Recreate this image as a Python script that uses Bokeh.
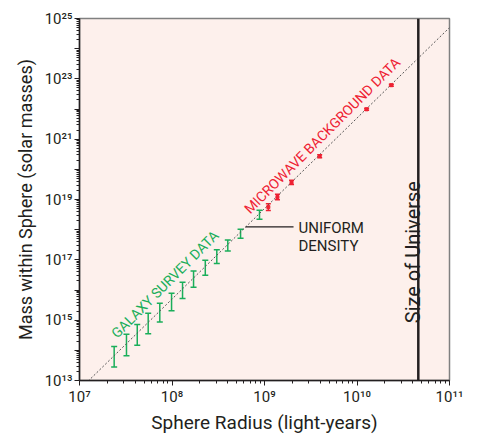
import math
from bokeh.plotting import figure
from bokeh.models import ColumnDataSource, Whisker, TeeHead, Span, FixedTicker
from bokeh.core.properties import value
from bokeh.embed import file_html
from bokeh.resources import INLINE

# ---------------- data ----------------
# Galaxy survey data: sphere radius (light-years), mass error-bar bounds (solar masses)
galaxy_radius = [2.37e7, 3.22e7, 4.21e7, 5.53e7, 7.38e7, 9.89e7, 1.30e8,
                 1.71e8, 2.29e8, 3.05e8, 4.01e8, 5.51e8, 8.83e8]
galaxy_upper = [1.33e14, 3.42e14, 7.21e14, 1.69e15, 3.65e15, 7.87e15, 1.79e16,
                4.29e16, 9.75e16, 2.17e17, 4.58e17, 1.04e18, 4.40e18]
galaxy_lower = [2.78e13, 6.62e13, 1.47e14, 3.52e14, 8.63e14, 2.05e15, 5.18e15,
                1.23e16, 3.11e16, 7.62e16, 1.95e17, 5.15e17, 2.20e18]

# Microwave background data
cmb_radius = [1.10e9, 1.38e9, 1.96e9, 3.95e9, 1.27e10, 2.35e10]
cmb_mass = [5.62e18, 1.21e19, 3.69e19, 2.74e20, 9.77e21, 6.15e22]
cmb_upper = [7.24e18, 1.49e19, 4.34e19, 3.07e20, 1.06e22, 6.67e22]
cmb_lower = [4.36e18, 9.84e18, 3.14e19, 2.44e20, 9.01e21, 5.67e22]

# Uniform density reference line: M = k * R^3
uniform_radius = [1e7, 1e11]
uniform_k = 5.0e-9

# Size of the observable universe (light-years)
universe_size = 4.6e10

# Tick labels
x_ticks = [1e7, 1e8, 1e9, 1e10, 1e11]
x_tick_labels = ["10⁷", "10⁸", "10⁹", "10¹⁰", "10¹¹"]
y_ticks = [1e13, 1e14, 1e15, 1e16, 1e17, 1e18, 1e19, 1e20, 1e21, 1e22, 1e23, 1e24, 1e25]
y_tick_labels = ["10¹³", "", "10¹⁵", "", "10¹⁷", "", "10¹⁹", "", "10²¹", "", "10²³", "", "10²⁵"]

# Annotation anchors
galaxy_label_pos = (8.4e7, 1.55e16)
cmb_label_pos = (4.2e9, 1.32e21)
uniform_leader_x = [6.24e8, 2.06e9]
uniform_leader_y = [1.24e18, 1.24e18]
uniform_text_x = [2.33e9, 2.33e9]
uniform_text_y = [1.17e18, 2.84e17]
uniform_text = ["UNIFORM", "DENSITY"]
universe_label_y = 1.8e17

GREEN = "#1AAE5A"
RED = "#EE2233"
DARK = "#231F20"
FONT = "Roboto"

p = figure(width=471, height=436, x_axis_type="log", y_axis_type="log",
           x_range=(1e7, 1e11), y_range=(1e13, 1e25),
           output_backend="svg", toolbar_location=None,
           min_border_left=79, min_border_right=22, min_border_top=18, min_border_bottom=48)

p.background_fill_color = "#FDF0EC"
p.border_fill_color = "white"
p.outline_line_color = "#808080"
p.outline_line_width = 1.5
p.grid.visible = False

# uniform density dotted line
uniform_mass = [uniform_k * r ** 3 for r in uniform_radius]
p.line(uniform_radius, uniform_mass, line_color="#555555", line_width=1, line_dash="2 2")

# galaxy survey error bars
gsrc = ColumnDataSource(dict(x=galaxy_radius, upper=galaxy_upper, lower=galaxy_lower))
gw = Whisker(source=gsrc, base="x", upper="upper", lower="lower", dimension="height",
             line_color=GREEN, line_width=1.5,
             upper_head=TeeHead(size=6, line_color=GREEN, line_width=1.5),
             lower_head=TeeHead(size=6, line_color=GREEN, line_width=1.5))
p.add_layout(gw)

# microwave error bars
csrc = ColumnDataSource(dict(x=cmb_radius, y=cmb_mass, upper=cmb_upper, lower=cmb_lower))
cw = Whisker(source=csrc, base="x", upper="upper", lower="lower", dimension="height",
             line_color=RED, line_width=1.5,
             upper_head=TeeHead(size=5, line_color=RED, line_width=1.5),
             lower_head=TeeHead(size=5, line_color=RED, line_width=1.5))
p.add_layout(cw)
p.scatter("x", "y", source=csrc, marker="square", size=3, color=RED)

# size of universe line
p.add_layout(Span(location=universe_size, dimension="height", line_color=DARK, line_width=2.5))

# labels
p.text(x=[galaxy_label_pos[0]], y=[galaxy_label_pos[1]], text=["GALAXY SURVEY DATA"],
       angle=math.pi / 4, text_align="center", text_baseline="middle",
       text_font=value(FONT), text_font_size="14px", text_color=GREEN)
p.text(x=[cmb_label_pos[0]], y=[cmb_label_pos[1]], text=["MICROWAVE BACKGROUND DATA"],
       angle=math.pi / 4, text_align="center", text_baseline="middle",
       text_font=value(FONT), text_font_size="14px", text_color=RED)
p.line(uniform_leader_x, uniform_leader_y, line_color=DARK, line_width=1.2)
p.text(x=uniform_text_x, y=uniform_text_y, text=uniform_text,
       text_align="left", text_baseline="middle",
       text_font=value(FONT), text_font_size="15px", text_color=DARK)
p.text(x=[universe_size], y=[universe_label_y], text=["Size of Universe"],
       angle=math.pi / 2, text_align="center", text_baseline="alphabetic", x_offset=-5,
       text_font=value(FONT), text_font_size="20px", text_color=DARK)

# axes
minor_x = [k * 10.0 ** e for e in range(7, 11) for k in range(2, 10)]
minor_y = [k * 10.0 ** e for e in range(13, 25) for k in range(2, 10)]
p.xaxis.ticker = FixedTicker(ticks=x_ticks, minor_ticks=minor_x)
p.yaxis.ticker = FixedTicker(ticks=y_ticks, minor_ticks=minor_y)
p.xaxis.major_label_overrides = {t: l for t, l in zip(x_ticks, x_tick_labels)}
p.yaxis.major_label_overrides = {t: l for t, l in zip(y_ticks, y_tick_labels)}

p.xaxis.axis_label = "Sphere Radius (light-years)"
p.yaxis.axis_label = "Mass within Sphere (solar masses)"
for ax in (p.xaxis, p.yaxis):
    ax.axis_label_text_font = FONT
    ax.axis_label_text_font_size = "18px"
    ax.axis_label_text_font_style = "normal"
    ax.axis_label_text_color = DARK
    ax.major_label_text_font = FONT
    ax.major_label_text_font_size = "15px"
    ax.major_label_text_color = DARK
    ax.axis_line_color = DARK
    ax.axis_line_width = 1.5
    ax.major_tick_line_color = DARK
    ax.minor_tick_line_color = DARK
    ax.major_tick_out = 5
    ax.major_tick_in = 0
    ax.minor_tick_out = 3
    ax.minor_tick_in = 0
    ax.major_label_standoff = 2
    ax.axis_label_standoff = 2
p.xaxis.axis_label_text_font_size = "19px"
p.yaxis.axis_label_standoff = 6

open("out.html", "w").write(file_html(p, INLINE))
